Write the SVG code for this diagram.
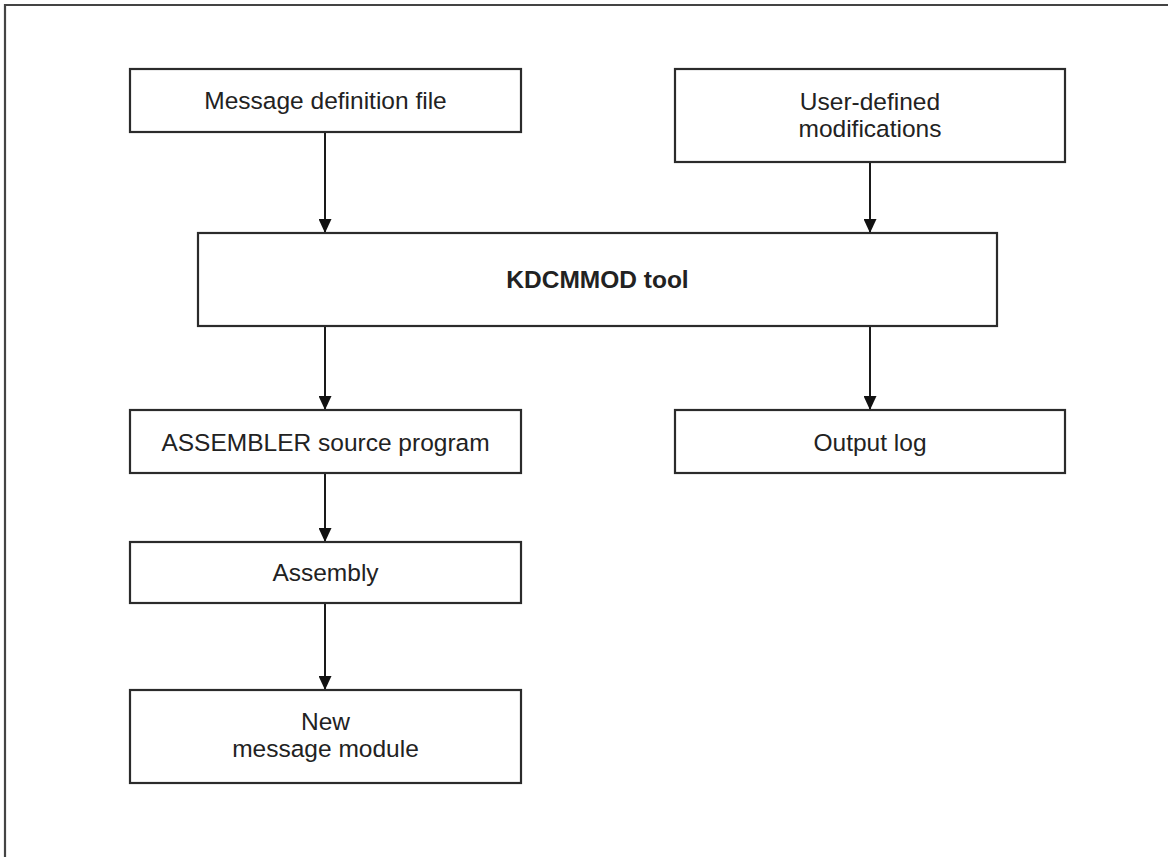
<svg xmlns="http://www.w3.org/2000/svg" width="1168" height="857" viewBox="0 0 1168 857">
<defs>
<style>
.box{fill:#fff;stroke:#2b2b2b;stroke-width:2.2}
.lbl{font-family:"Liberation Sans",Arial,sans-serif;font-size:24.5px;fill:#222;text-anchor:middle}
.bold{font-weight:bold}
.conn{stroke:#1a1a1a;stroke-width:2;fill:none;marker-end:url(#arr)}
</style>
<marker id="arr" viewBox="0 0 14 13" refX="14" refY="6.5" markerWidth="14" markerHeight="13" markerUnits="userSpaceOnUse" orient="auto">
<path d="M0,0 L14,6.5 L0,13 Z" fill="#111"/>
</marker>
</defs>
<rect width="1168" height="857" fill="#fff"/>
<path d="M5,857 V5 H1168" fill="none" stroke="#444" stroke-width="2.2"/>
<g id="connectors">
<line class="conn" x1="325" y1="132" x2="325" y2="233"/>
<line class="conn" x1="870" y1="162" x2="870" y2="233"/>
<line class="conn" x1="325" y1="326" x2="325" y2="410"/>
<line class="conn" x1="870" y1="326" x2="870" y2="410"/>
<line class="conn" x1="325" y1="473" x2="325" y2="542"/>
<line class="conn" x1="325" y1="603" x2="325" y2="690"/>
</g>
<g id="msgdef">
<rect class="box" x="130" y="69" width="391" height="63"/>
<text class="lbl" x="325.5" y="109">Message definition file</text>
</g>
<g id="usermod">
<rect class="box" x="675" y="69" width="390" height="93"/>
<text class="lbl" x="870" y="110">User-defined</text>
<text class="lbl" x="870" y="137">modifications</text>
</g>
<g id="kdcmmod">
<rect class="box" x="198" y="233" width="799" height="93"/>
<text class="lbl bold" x="597.5" y="288">KDCMMOD tool</text>
</g>
<g id="asmsrc">
<rect class="box" x="130" y="410" width="391" height="63"/>
<text class="lbl" x="325.5" y="451">ASSEMBLER source program</text>
</g>
<g id="outlog">
<rect class="box" x="675" y="410" width="390" height="63"/>
<text class="lbl" x="870" y="451">Output log</text>
</g>
<g id="assembly">
<rect class="box" x="130" y="542" width="391" height="61"/>
<text class="lbl" x="325.5" y="581">Assembly</text>
</g>
<g id="newmod">
<rect class="box" x="130" y="690" width="391" height="93"/>
<text class="lbl" x="325.5" y="730">New</text>
<text class="lbl" x="325.5" y="757">message module</text>
</g>
</svg>
